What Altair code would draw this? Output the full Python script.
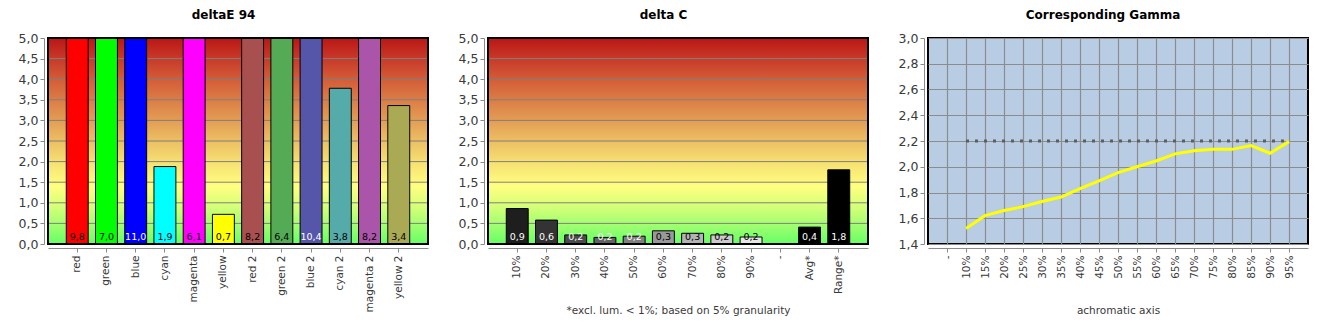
import altair as alt
import pandas as pd

# ---------------- data ----------------
de_cats = ["red", "green", "blue", "cyan", "magenta", "yellow",
           "red 2", "green 2", "blue 2", "cyan 2", "magenta 2", "yellow 2"]
de_vals = [9.8, 7.0, 11.0, 1.88, 6.1, 0.72, 8.2, 6.4, 10.4, 3.78, 8.2, 3.36]
de_colors = ["#ff0000", "#00ff00", "#0000ff", "#00ffff", "#ff00ff", "#ffff00",
             "#a85050", "#55aa55", "#5555aa", "#55aaaa", "#aa55aa", "#aaaa55"]
de_white_text = ["blue", "blue 2"]

dc_domain = ["10%", "20%", "30%", "40%", "50%", "60%", "70%", "80%", "90%",
             "-", "Avg*", "Range*"]
dc_cats = ["10%", "20%", "30%", "40%", "50%", "60%", "70%", "80%", "90%",
           "Avg*", "Range*"]
dc_vals = [0.86, 0.58, 0.22, 0.16, 0.19, 0.32, 0.26, 0.22, 0.17, 0.41, 1.80]
dc_colors = ["#1e1e1e", "#333333", "#4b4b4b", "#626262", "#7f7f7f", "#999999",
             "#b3b3b3", "#cccccc", "#e6e6e6", "#000000", "#000000"]
dc_white_text = ["10%", "20%", "30%", "40%", "50%", "Avg*", "Range*"]

gm_domain = ["-", "10%", "15%", "20%", "25%", "30%", "35%", "40%", "45%", "50%",
             "55%", "60%", "65%", "70%", "75%", "80%", "85%", "90%", "95%"]
gm_cats = gm_domain[1:]
gm_vals = [1.52, 1.62, 1.66, 1.69, 1.73, 1.765, 1.83, 1.89, 1.955, 2.0,
           2.045, 2.10, 2.125, 2.135, 2.135, 2.165, 2.105, 2.195]
gm_target_cats = ["10%", "95%"]
gm_target_vals = [2.2, 2.2]

d_yticks = [0.0, 0.5, 1.0, 1.5, 2.0, 2.5, 3.0, 3.5, 4.0, 4.5, 5.0]
gm_yticks = [1.4, 1.6, 1.8, 2.0, 2.2, 2.4, 2.6, 2.8, 3.0]

W, H = 380, 206
FONT = "DejaVu Sans"
AX_GRAY = "#8a8a8a"
LBL = "#3a3a3a"
YFS = 12.5
XFS = 10.5
comma = "replace(format(datum.value, '.1f'), '.', ',')"

grad = alt.LinearGradient(
    gradient="linear", x1=0, x2=0, y1=0, y2=1,
    stops=[
        alt.GradientStop(offset=0.0, color="#bb1616"),
        alt.GradientStop(offset=0.1, color="#c73a28"),
        alt.GradientStop(offset=0.2, color="#d35c38"),
        alt.GradientStop(offset=0.3, color="#db7d46"),
        alt.GradientStop(offset=0.4, color="#e39d54"),
        alt.GradientStop(offset=0.5, color="#ecbf63"),
        alt.GradientStop(offset=0.6, color="#f6df72"),
        alt.GradientStop(offset=0.72, color="#ffff80"),
        alt.GradientStop(offset=0.82, color="#d4ff78"),
        alt.GradientStop(offset=0.91, color="#a0ff70"),
        alt.GradientStop(offset=1.0, color="#66ff66"),
    ],
)


def y_axis(values):
    return alt.Axis(title=None, values=values, tickCount=30, labelExpr=comma,
                    grid=False, offset=4, tickSize=4, labelPadding=2,
                    labelOverlap=False, labelFontSize=YFS,
                    domainColor=AX_GRAY, tickColor=AX_GRAY, labelColor=LBL)


def x_axis(title=None):
    kw = dict(labelAngle=-90, offset=4, tickSize=4, labelPadding=3,
              labelFontSize=XFS, labelOverlap=False,
              domainColor=AX_GRAY, tickColor=AX_GRAY, labelColor=LBL,
              grid=False)
    if title:
        kw.update(title=title, titleY=62, titleBaseline="middle",
                  titleFontWeight="normal", titleColor=LBL, titleFontSize=10.5,
                  titleFont=FONT)
    else:
        kw.update(title=None)
    return alt.Axis(**kw)


def bar_panel(cats, domain, vals, colors, white, title, xtitle=None):
    df = pd.DataFrame({"cat": cats, "val": vals})
    yscale = alt.Scale(domain=[0, 5], clamp=True, nice=False, zero=True)
    xscale = alt.Scale(domain=domain, paddingInner=0.25, paddingOuter=0.625)
    yax = y_axis(d_yticks)
    yenc = alt.Y("val:Q", scale=yscale, axis=yax)

    bg = alt.Chart(pd.DataFrame({"val": [5.0], "val0": [0.0]})).mark_rect(
        fill=grad).encode(
        x=alt.value(0), x2=alt.value("width"),
        y=yenc, y2="val0:Q")
    grid = alt.Chart(pd.DataFrame({"val": d_yticks})).mark_rule(
        color="#7f7f7f", strokeWidth=1).encode(y=yenc)
    bars = alt.Chart(df).mark_bar(stroke="black", strokeWidth=1).encode(
        x=alt.X("cat:N", sort=domain, scale=xscale, axis=x_axis(xtitle)),
        y=yenc,
        color=alt.Color("cat:N", scale=alt.Scale(domain=cats, range=colors),
                        legend=None),
    )
    labels = alt.Chart(df).transform_calculate(
        lab="replace(format(datum.val, '.1f'), '.', ',')"
    ).mark_text(baseline="middle", dy=-7, fontSize=9.5, font=FONT).encode(
        x=alt.X("cat:N", sort=domain, scale=xscale, axis=x_axis(xtitle)),
        y=alt.YDatum(0, scale=yscale, axis=yax),
        text="lab:N",
        color=alt.condition(alt.FieldOneOfPredicate(field="cat", oneOf=white),
                            alt.value("white"), alt.value("black")),
    )
    border = alt.Chart(pd.DataFrame({"val": [5.0], "val0": [0.0]})).mark_rect(
        fillOpacity=0, stroke="black", strokeWidth=2).encode(
        x=alt.value(0), x2=alt.value("width"), y=yenc, y2="val0:Q")
    return alt.layer(bg, grid, bars, labels, border).properties(
        width=W, height=H, title=title)


left = bar_panel(de_cats, de_cats, de_vals, de_colors, de_white_text, "deltaE 94")
mid = bar_panel(dc_cats, dc_domain, dc_vals, dc_colors, dc_white_text, "delta C",
                xtitle="*excl. lum. < 1%; based on 5% granularity")

# ---------------- gamma panel ----------------
gm_df = pd.DataFrame({"cat": gm_cats, "g": gm_vals})
tg_df = pd.DataFrame({"cat": gm_target_cats, "g": gm_target_vals})
gx = alt.Scale(type="point", domain=gm_domain, padding=1.4)
gy = alt.Scale(domain=[1.4, 3.0], nice=False, zero=False)
gx_axis = alt.Axis(labelAngle=-90, offset=4, tickSize=4, labelPadding=3,
                   labelFontSize=XFS, labelOverlap=False,
                   domainColor=AX_GRAY, tickColor=AX_GRAY, labelColor=LBL,
                   grid=True, gridColor="#8c8c8c", gridWidth=1.2,
                   title="achromatic axis", titleY=62, titleBaseline="middle",
                   titleFontWeight="normal", titleColor=LBL, titleFontSize=10.5,
                   titleFont=FONT)
gy_axis = alt.Axis(title=None, values=gm_yticks, tickCount=30, labelExpr=comma,
                   grid=True, gridColor="#8c8c8c", gridWidth=1.2, offset=4,
                   tickSize=4, labelPadding=2, labelOverlap=False,
                   labelFontSize=YFS,
                   domainColor=AX_GRAY, tickColor=AX_GRAY, labelColor=LBL)

target = alt.Chart(tg_df).mark_line(color="#5e5e5e", strokeWidth=3,
                                    strokeDash=[3, 6], strokeCap="butt").encode(
    x=alt.X("cat:N", sort=gm_domain, scale=gx, axis=gx_axis),
    y=alt.Y("g:Q", scale=gy, axis=gy_axis),
)
gline = alt.Chart(gm_df).mark_line(color="#ffff00", strokeWidth=3).encode(
    x=alt.X("cat:N", sort=gm_domain, scale=gx, axis=gx_axis),
    y=alt.Y("g:Q", scale=gy, axis=gy_axis),
)
right = alt.layer(target, gline).properties(
    width=W, height=H, title="Corresponding Gamma",
    view=alt.ViewBackground(fill="#b8cce4", stroke="black", strokeWidth=2))

chart = alt.hconcat(left, mid, right, spacing=27).resolve_scale(
    color="independent"
).properties(
    padding={"left": 17, "top": 8, "right": 5, "bottom": 5},
    background="white",
).configure_view(stroke="black", strokeWidth=2).configure_title(
    font=FONT, fontSize=12, fontWeight="bold", anchor="middle", frame="bounds",
    offset=10, color="black"
).configure_axis(
    labelFont=FONT, titleFont=FONT, labelOverlap=False
)

chart.save("out.html", embed_options={"renderer": "svg", "actions": False})
